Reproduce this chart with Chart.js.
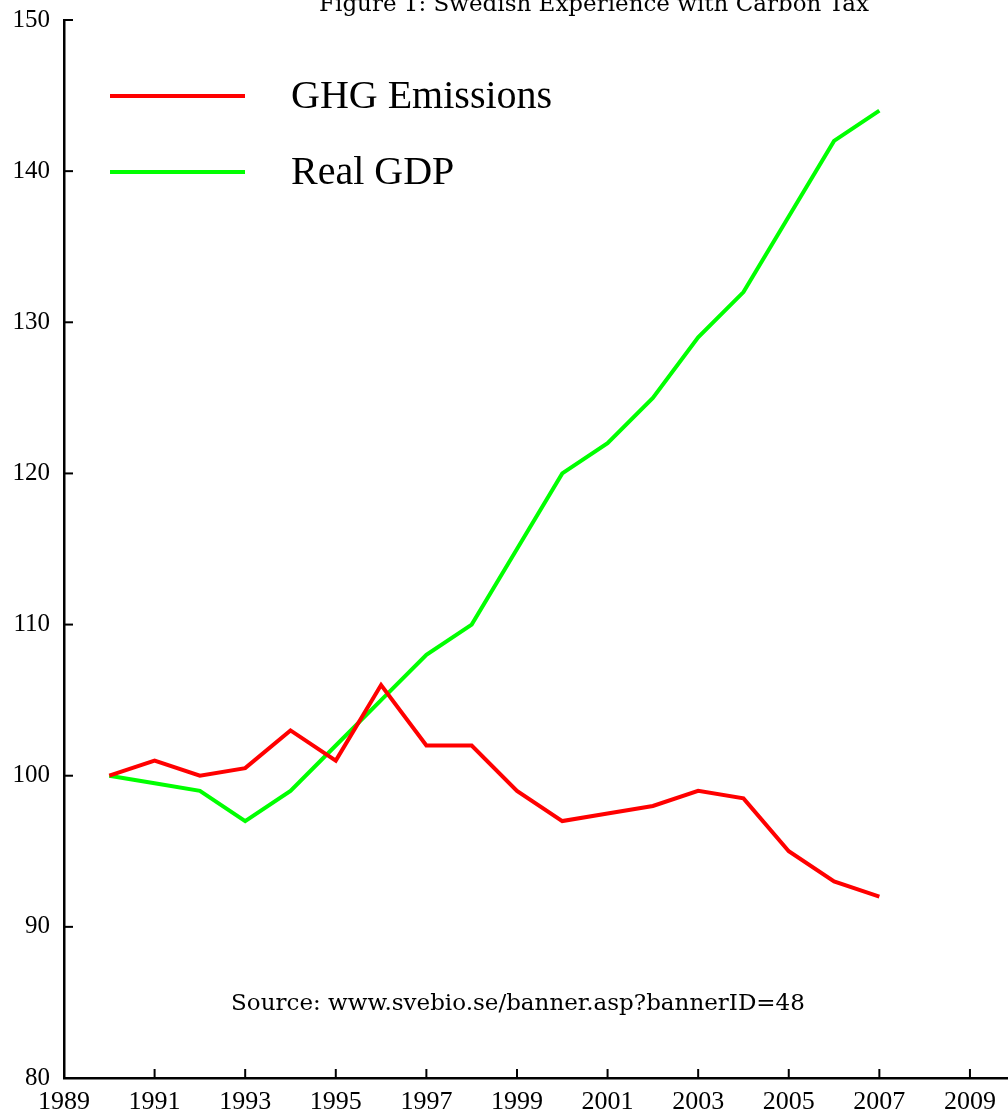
<!DOCTYPE html>
<html>
<head>
<meta charset="utf-8">
<script src="https://cdn.jsdelivr.net/npm/chart.js@4"></script>
<style>
  html, body { margin: 0; padding: 0; background: #fff; }
  #wrap { width: 1008px; height: 1118px; }
</style>
</head>
<body>
<div id="wrap"><canvas id="myChart" width="1008" height="1118"></canvas></div>
<script>
const years = [1990, 1991, 1992, 1993, 1994, 1995, 1996, 1997, 1998, 1999, 2000, 2001, 2002, 2003, 2004, 2005, 2006, 2007];
const ghgEmissions = [100, 101, 100, 100.5, 103, 101, 106, 102, 102, 99, 97, 97.5, 98, 99, 98.5, 95, 93, 92];
const realGdp = [100, 99.5, 99, 97, 99, 102, 105, 108, 110, 115, 120, 122, 125, 129, 132, 137, 142, 144];
const xTicks = [1989, 1991, 1993, 1995, 1997, 1999, 2001, 2003, 2005, 2007, 2009];
const yTicks = [80, 90, 100, 110, 120, 130, 140, 150];

const serif = "'Liberation Serif', 'DejaVu Serif', serif";
const wideSerif = "'DejaVu Serif', 'Liberation Serif', serif";

// inward tick marks, legend, title and source note
const extras = {
  id: "extras",
  afterDraw(chart) {
    const c = chart.ctx;
    const xs = chart.scales.x;
    const ys = chart.scales.y;
    const area = chart.chartArea;
    c.save();
    c.strokeStyle = "#000";
    c.lineWidth = 2;
    xs.ticks.forEach((t) => {
      const px = xs.getPixelForValue(t.value);
      c.beginPath();
      c.moveTo(px, area.bottom);
      c.lineTo(px, area.bottom - 9);
      c.stroke();
    });
    ys.ticks.forEach((t) => {
      const py = ys.getPixelForValue(t.value);
      c.beginPath();
      c.moveTo(area.left, py);
      c.lineTo(area.left + 9, py);
      c.stroke();
    });

    // legend
    const rows = [96, 172];
    chart.data.datasets.forEach((ds, i) => {
      c.strokeStyle = ds.borderColor;
      c.lineWidth = 4;
      c.beginPath();
      c.moveTo(110, rows[i]);
      c.lineTo(245, rows[i]);
      c.stroke();
      c.fillStyle = "#000";
      c.font = "40px " + serif;
      c.textBaseline = "middle";
      c.textAlign = "left";
      c.fillText(ds.label, 291, rows[i] + 1);
    });

    c.fillStyle = "#000";
    c.textAlign = "center";
    c.textBaseline = "alphabetic";
    c.font = "23px " + wideSerif;
    c.fillText("Figure 1: Swedish Experience with Carbon Tax", 594, 11);
    c.fillText("Source: www.svebio.se/banner.asp?bannerID=48", 518, 1010);
    c.restore();
  },
};

const ctx = document.getElementById("myChart").getContext("2d");
const myChart = new Chart(ctx, {
  type: "line",
  data: {
    datasets: [
      {
        label: "GHG Emissions",
        data: years.map((yr, i) => ({ x: yr, y: ghgEmissions[i] })),
        borderColor: "#ff0000",
        borderWidth: 4,
        pointRadius: 0,
        fill: false,
        tension: 0,
      },
      {
        label: "Real GDP",
        data: years.map((yr, i) => ({ x: yr, y: realGdp[i] })),
        borderColor: "#00ff00",
        borderWidth: 4,
        pointRadius: 0,
        fill: false,
        tension: 0,
      },
    ],
  },
  options: {
    responsive: false,
    animation: false,
    layout: { padding: { top: 20, right: 0, left: 0, bottom: 0 } },
    plugins: {
      legend: { display: false },
      tooltip: { enabled: false },
    },
    scales: {
      x: {
        type: "linear",
        min: 1989,
        max: 2009.84,
        afterBuildTicks: (scale) => {
          scale.ticks = xTicks.map((v) => ({ value: v }));
        },
        afterFit: (scale) => {
          scale.height = 40;
          scale.paddingLeft = 0;
          scale.paddingRight = 0;
        },
        ticks: {
          autoSkip: false,
          maxRotation: 0,
          padding: 9,
          color: "#000",
          font: { family: serif, size: 26 },
          callback: (v) => String(v),
        },
        grid: { display: false, drawTicks: false },
        border: { display: true, color: "#000", width: 2.5 },
      },
      y: {
        min: 80,
        max: 150,
        afterBuildTicks: (scale) => {
          scale.ticks = yTicks.map((v) => ({ value: v }));
        },
        afterFit: (scale) => {
          scale.width = 64;
          scale.paddingTop = 0;
          scale.paddingBottom = 0;
        },
        ticks: {
          padding: 14,
          color: "#000",
          font: { family: serif, size: 25 },
        },
        grid: { display: false, drawTicks: false },
        border: { display: true, color: "#000", width: 2.5 },
      },
    },
  },
  plugins: [extras],
});
</script>
</body>
</html>
